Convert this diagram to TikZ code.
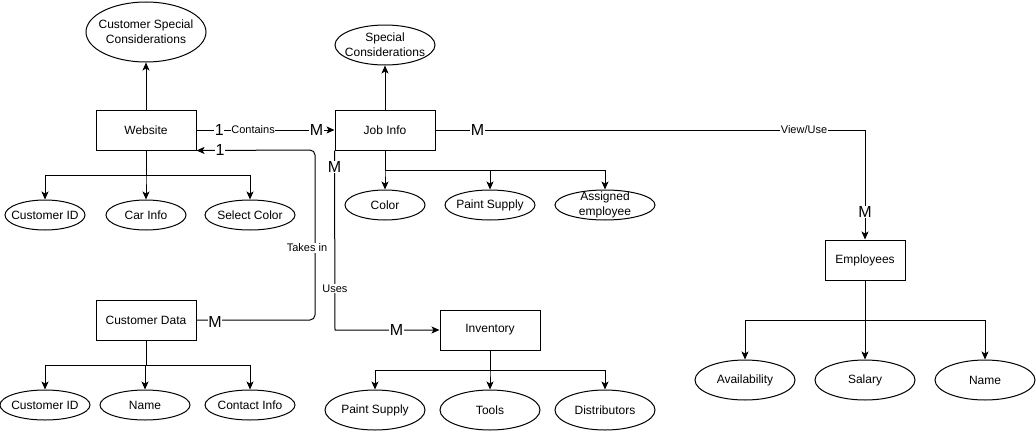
\documentclass[tikz,border=0pt]{standalone}
\usepackage{fontspec}
\setmainfont{Liberation Sans}
\usetikzlibrary{shapes.geometric,arrows.meta}
\begin{document}
\begin{tikzpicture}[x=1pt,y=-1pt,
  every node/.style={font=\fontsize{12}{14}\selectfont},
  ent/.style={draw, line width=1pt, rectangle, minimum width=100pt, minimum height=40pt, inner sep=0pt},
  attr/.style={draw, line width=1pt, ellipse, inner sep=0pt},
  intext/.style={align=center, inner sep=0pt, font=\fontsize{12}{15}\selectfont},
  conn/.style={draw, line width=1pt, -{Stealth[length=8pt,width=7pt,inset=2pt]}},
  card/.style={fill=white, inner sep=0.5pt, font=\fontsize{16}{16}\selectfont},
  lbl/.style={fill=white, inner sep=0.5pt, font=\fontsize{11}{11}\selectfont},
]
\useasboundingbox (0,0) rectangle (1036,431);
\fill[white] (0,0) rectangle (1036,431);

% entities
\node[ent] (web) at (146,130) {Website};
\node[ent] (job) at (385,130) {Job Info};
\node[ent] (cd) at (146,320) {Customer Data};
\node[ent] (inv) at (490,330) {Inventory};
\node[ent, minimum width=80pt] (emp) at (865,260) {Employees};

% attributes
\node[attr, minimum width=120pt, minimum height=60pt, label={[intext]center:Customer Special\\Considerations}] (csc) at (146,32) {};
\node[attr, minimum width=100pt, minimum height=40pt, label={[intext]center:Special\\Considerations}] (sc) at (385,45) {};
\node[attr, minimum width=80pt, minimum height=30pt, label={[intext]center:Customer ID}] (cid1) at (45,215) {};
\node[attr, minimum width=80pt, minimum height=30pt, label={[intext]center:Car Info}] (car) at (146,215) {};
\node[attr, minimum width=90pt, minimum height=30pt, label={[intext]center:Select Color}] (selcol) at (250,215) {};
\node[attr, minimum width=80pt, minimum height=30pt, label={[intext]center:Color}] (color) at (385,205) {};
\node[attr, minimum width=90pt, minimum height=30pt, label={[intext]center:Paint Supply}] (ps1) at (490,205) {};
\node[attr, minimum width=100pt, minimum height=30pt, label={[intext]center:Assigned\\employee}] (assigned) at (605,205) {};
\node[attr, minimum width=90pt, minimum height=30pt, label={[intext]center:Customer ID}] (cid2) at (45,405) {};
\node[attr, minimum width=90pt, minimum height=30pt, label={[intext]center:Name}] (name1) at (145,405) {};
\node[attr, minimum width=90pt, minimum height=30pt, label={[intext]center:Contact Info}] (contact) at (250,405) {};
\node[attr, minimum width=100pt, minimum height=40pt, label={[intext]center:Paint Supply}] (ps2) at (375,410) {};
\node[attr, minimum width=100pt, minimum height=40pt, label={[intext]center:Tools}] (tools) at (490,410) {};
\node[attr, minimum width=100pt, minimum height=40pt, label={[intext]center:Distributors}] (dist) at (605,410) {};
\node[attr, minimum width=100pt, minimum height=40pt, label={[intext]center:Availability}] (avail) at (745,380) {};
\node[attr, minimum width=100pt, minimum height=40pt, label={[intext]center:Salary}] (salary) at (865,380) {};
\node[attr, minimum width=100pt, minimum height=40pt, label={[intext]center:Name}] (name2) at (985,380) {};

% attribute connectors
\draw[conn] (web.north) -- (csc.south);
\draw[conn] (job.north) -- (sc.south);
\foreach \t in {cid1,car,selcol} \draw[conn] (web.south) -- (web.south |- 0,175) -| (\t.north);
\foreach \t in {color,ps1,assigned} \draw[conn] (job.south) -- (job.south |- 0,170) -| (\t.north);
\foreach \t in {cid2,name1,contact} \draw[conn] (cd.south) -- (cd.south |- 0,365) -| (\t.north);
\foreach \t in {ps2,tools,dist} \draw[conn] (inv.south) -- (inv.south |- 0,370) -| (\t.north);
\foreach \t in {avail,salary,name2} \draw[conn] (emp.south) -- (emp.south |- 0,320) -| (\t.north);

% relationships
\draw[conn] (web.east) -- node[card,pos=0.165]{1} node[lbl,pos=0.41]{Contains} node[card,pos=0.87]{M} (job.west);

\coordinate (tk1) at (315,320);
\coordinate (tk2) at (315,150);
\draw[conn, rounded corners=5pt] (cd.east) -- (tk1) -- (tk2) -- (web.south east);
\node[card] (cdm) at (215,322) {M};
\node[card] (web1) at (220,150) {1};
\node[lbl] (takes) at (307,248) {Takes in};

\coordinate (ui) at (335,330);
\draw[conn] (job.south west) -- node[card,pos=0.094]{M} node[lbl,pos=0.77]{Uses} (ui) -- node[card,pos=0.59]{M} (inv.west);

\coordinate (ve) at (865,130);
\draw[conn] (job.east) -- node[card,pos=0.098]{M} node[lbl,pos=0.858]{View/Use} (ve) -- node[card,pos=0.745]{M} (emp.north);
\end{tikzpicture}
\end{document}
